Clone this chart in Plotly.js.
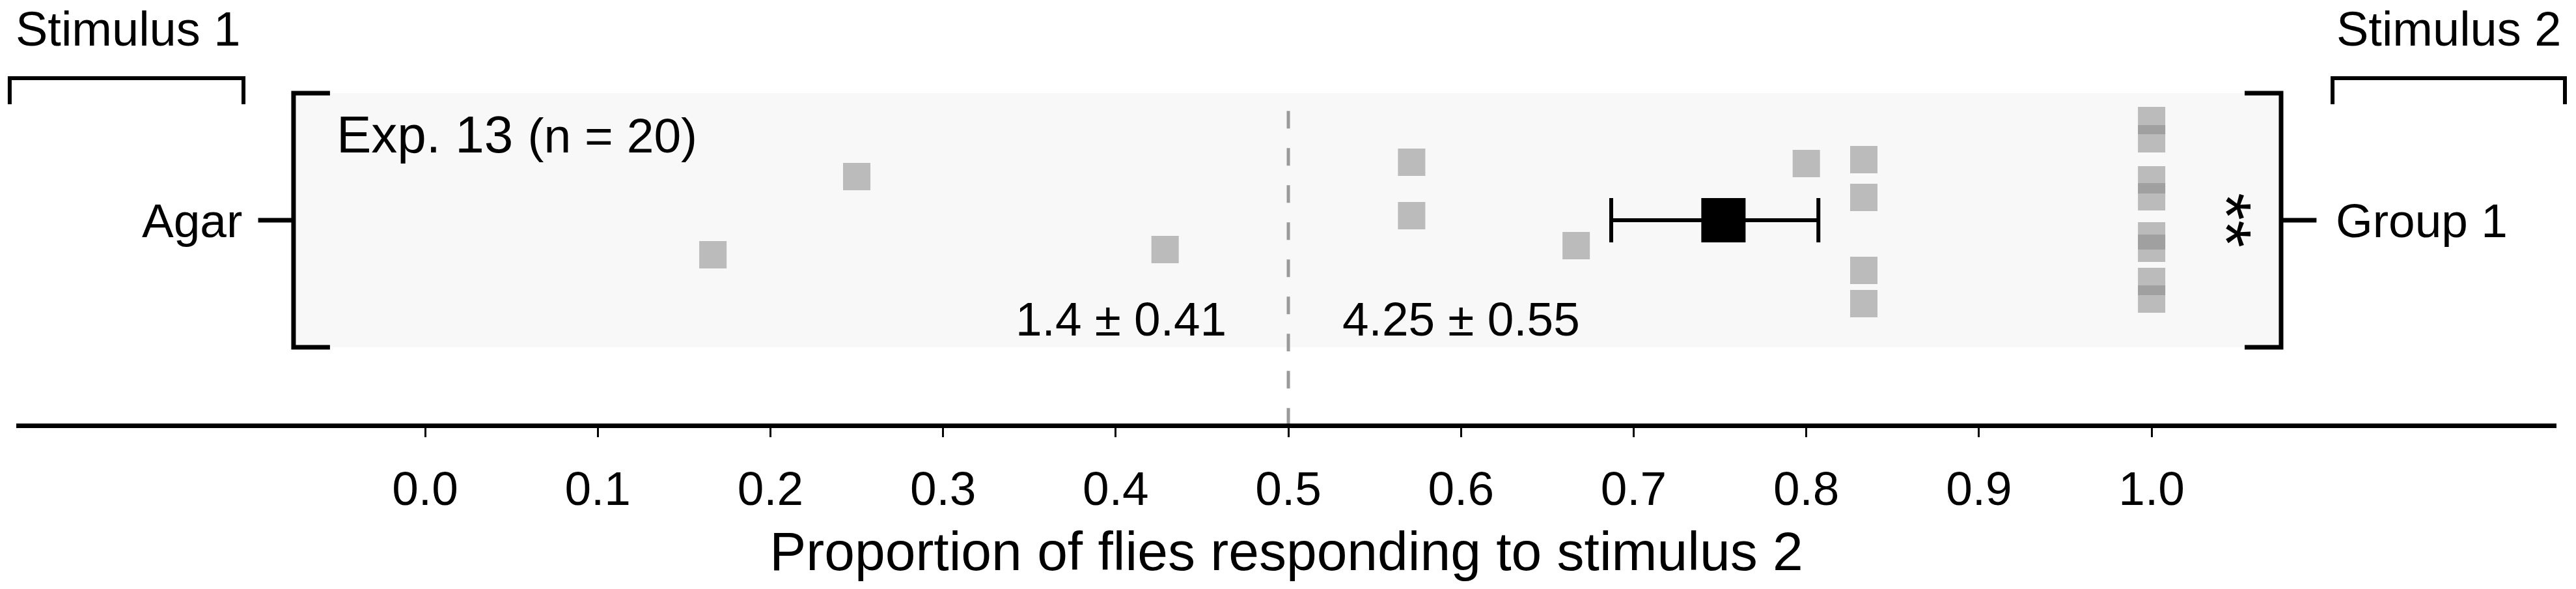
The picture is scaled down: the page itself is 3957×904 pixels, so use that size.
<!DOCTYPE html>
<html>
<head>
<meta charset="utf-8">
<script src="https://cdn.plot.ly/plotly-3.0.1.min.js"></script>
<style>html,body{margin:0;padding:0;background:#fff;}#chart{width:3957px;height:904px;}</style>
</head>
<body>
<div id="chart"></div>
<script>
// ---- data ----
const stimulusLabels = ['Stimulus 1', 'Stimulus 2'];
const rowLabelLeft = ['Agar'];
const rowLabelRight = ['Group 1'];
const experimentLabel = ['Exp. 13', '(n = 20)'];
const groupRow = [0];
// individual replicate proportions (responding to stimulus 2)
const proportions = [0.1667, 0.25, 0.4286, 0.5714, 0.5714, 0.6667, 0.8,
                     0.8333, 0.8333, 0.8333, 0.8333,
                     1, 1, 1, 1, 1, 1, 1, 1];
// vertical jitter of each replicate within the row (row half-height = 1)
const jitter = [-0.272, 0.344, -0.231, 0.456, 0.036, -0.2, 0.446,
                0.477, 0.179, -0.395, -0.656,
                0.785, 0.641, 0.318, 0.185, -0.123, -0.221, -0.482, -0.62];
const meanProportion = [0.752];
const meanErrPlus = [0.055];
const meanErrMinus = [0.065];
const meanCounts = ['1.4 ± 0.41', '4.25 ± 0.55'];
const significance = ['**'];
const tickValues = [0, 0.1, 0.2, 0.3, 0.4, 0.5, 0.6, 0.7, 0.8, 0.9, 1.0];
const tickLabels = ['0.0', '0.1', '0.2', '0.3', '0.4', '0.5', '0.6', '0.7', '0.8', '0.9', '1.0'];
const xTitle = 'Proportion of flies responding to stimulus 2';
const chanceLevel = 0.5;

// ---- layout helpers ----
const FONT = 'Liberation Sans, Arial, Helvetica, sans-serif';
const XR = [-0.2368, 1.2345];
const YR = [-1.6, 1.7333];
const toPaper = (d) => (d - XR[0]) / (XR[1] - XR[0]);
const row = groupRow[0];
const yRow = proportions.map((_, i) => row + jitter[i]);

const bracketL = -0.0762, bracketR = 1.075;
const serif = 0.0211, tickOut = 0.0205;

const traces = [
  {
    type: 'scatter', mode: 'markers',
    x: proportions, y: yRow,
    marker: {symbol: 'square', size: 42, color: 'rgba(139,139,139,0.56)', line: {width: 0}},
    hoverinfo: 'x', showlegend: false, cliponaxis: false
  },
  {
    type: 'scatter', mode: 'markers',
    x: meanProportion, y: [row],
    marker: {symbol: 'square', size: 68, color: '#000', line: {width: 0}},
    error_x: {type: 'data', symmetric: false, array: meanErrPlus, arrayminus: meanErrMinus,
              color: '#000', thickness: 6, width: 34},
    showlegend: false, cliponaxis: false
  }
];

const lineBlack = {color: '#000', width: 7};
const s1a = toPaper(-0.2406), s1b = toPaper(-0.1052), s2a = toPaper(1.1048), s2b = toPaper(1.2394);
const shapes = [
  // background band
  {type: 'rect', xref: 'x', yref: 'y', x0: bracketL, x1: bracketR, y0: row - 1, y1: row + 1,
   fillcolor: '#f8f8f8', line: {width: 0}, layer: 'below'},
  // chance line
  {type: 'line', xref: 'x', yref: 'y', x0: chanceLevel, x1: chanceLevel, y0: 0.86, y1: YR[0],
   line: {color: '#9a9a9a', width: 5, dash: '27px,30px'}, layer: 'below'},
  // left bracket
  {type: 'path', xref: 'x', yref: 'y',
   path: `M ${bracketL + serif} ${row + 1} L ${bracketL} ${row + 1} L ${bracketL} ${row - 1} L ${bracketL + serif} ${row - 1}`,
   line: lineBlack},
  {type: 'line', xref: 'x', yref: 'y', x0: bracketL - tickOut, x1: bracketL, y0: row, y1: row, line: lineBlack},
  // right bracket
  {type: 'path', xref: 'x', yref: 'y',
   path: `M ${bracketR - serif} ${row + 1} L ${bracketR} ${row + 1} L ${bracketR} ${row - 1} L ${bracketR - serif} ${row - 1}`,
   line: lineBlack},
  {type: 'line', xref: 'x', yref: 'y', x0: bracketR, x1: bracketR + tickOut, y0: row, y1: row, line: lineBlack},
  // stimulus brackets (paper x so they are not clipped at the plot edge)
  {type: 'path', xref: 'paper', yref: 'y',
   path: `M ${s1a} 0.913 L ${s1a} 1.118 L ${s1b} 1.118 L ${s1b} 0.913`,
   line: {color: '#000', width: 6}},
  {type: 'path', xref: 'paper', yref: 'y',
   path: `M ${s2a} 0.913 L ${s2a} 1.118 L ${s2b} 1.118 L ${s2b} 0.913`,
   line: {color: '#000', width: 6}}
];

const ann = (o) => Object.assign({showarrow: false, xref: 'x', yref: 'y',
  font: {family: FONT, size: 73, color: '#000'}}, o);

const annotations = [
  ann({text: stimulusLabels[0], x: -0.172, y: 1.728, xanchor: 'center', yanchor: 'top', font: {family: FONT, size: 74, color: '#000'}}),
  ann({text: stimulusLabels[1], x: 1.172, y: 1.728, xanchor: 'center', yanchor: 'top', font: {family: FONT, size: 74, color: '#000'}}),
  ann({text: rowLabelLeft[0], x: -0.1052, y: row, xanchor: 'right', yanchor: 'middle'}),
  ann({text: rowLabelRight[0], x: 1.106, y: row, xanchor: 'left', yanchor: 'middle'}),
  ann({text: experimentLabel[0] + ' <span style="font-size:75px">' + experimentLabel[1] + '</span>',
       x: -0.052, y: 0.672, xanchor: 'left', yanchor: 'middle', font: {family: FONT, size: 80, color: '#000'}}),
  ann({text: meanCounts[0], x: 0.4649, y: -0.779, xanchor: 'right', yanchor: 'middle'}),
  ann({text: meanCounts[1], x: 0.5305, y: -0.779, xanchor: 'left', yanchor: 'middle'}),
  ann({text: significance[0], x: 1.0437, y: row, xanchor: 'center', yanchor: 'middle', textangle: 90,
       font: {family: FONT, size: 108, color: '#000'}})
];

const layout = {
  width: 3957, height: 904,
  margin: {l: 25, r: 30, t: 0, b: 254, pad: 0},
  paper_bgcolor: '#fff', plot_bgcolor: 'rgba(0,0,0,0)',
  showlegend: false,
  font: {family: FONT, color: '#000'},
  xaxis: {
    range: XR, fixedrange: true,
    showgrid: false, zeroline: false,
    showline: true, linecolor: '#000', linewidth: 7,
    ticks: 'outside', ticklen: 14, tickwidth: 3, tickcolor: '#000',
    tickvals: tickValues, ticktext: tickLabels,
    tickfont: {family: FONT, size: 73, color: '#000'},
    ticklabelstandoff: 16,
    title: {text: xTitle, font: {family: FONT, size: 84, color: '#000'}, standoff: 30},
    automargin: false
  },
  yaxis: {
    range: YR, fixedrange: true,
    showgrid: false, zeroline: false, showline: false, showticklabels: false, ticks: ''
  },
  shapes: shapes,
  annotations: annotations
};

Plotly.newPlot('chart', traces, layout, {staticPlot: true, displayModeBar: false});
</script>
</body>
</html>
